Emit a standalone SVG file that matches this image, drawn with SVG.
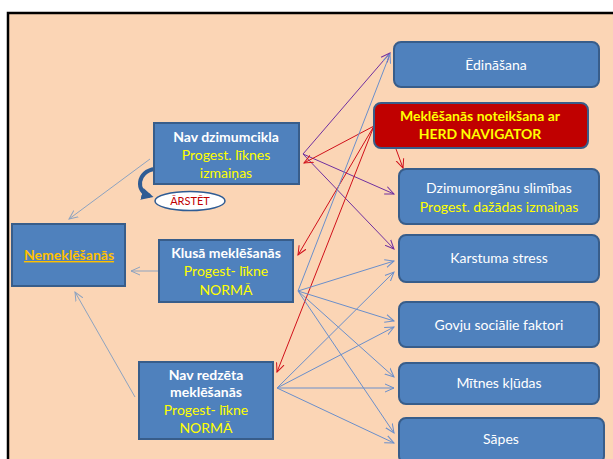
<svg xmlns="http://www.w3.org/2000/svg" width="613" height="459" viewBox="0 0 613 459">
<style>
.box{fill:#4F81BD;stroke:#385D8A;stroke-width:2}
.t{font-family:Lato,"Open Sans","Liberation Sans",sans-serif;font-size:14px;text-anchor:middle}
.w{fill:#FFFFFF}
.y{fill:#FFFF00}
.b{font-weight:bold}
.cp{stroke:#7030A0;stroke-width:1;fill:none;marker-end:url(#ap)}
.cr{stroke:#D0101A;stroke-width:1;fill:none;marker-end:url(#ar)}
.cb{stroke:#6A8FCB;stroke-width:1;fill:none;marker-end:url(#ab)}
.cg{stroke:#8DA3C0;stroke-width:1;fill:none;marker-end:url(#ag)}
</style>
<defs>
<marker id="ap" viewBox="0 0 10 10" refX="9" refY="5" markerWidth="10" markerHeight="10" markerUnits="userSpaceOnUse" orient="auto"><path d="M0,1 L9,5 L0,9" fill="none" stroke="#7030A0" stroke-width="1"/></marker>
<marker id="ar" viewBox="0 0 10 10" refX="9" refY="5" markerWidth="10" markerHeight="10" markerUnits="userSpaceOnUse" orient="auto"><path d="M0,1 L9,5 L0,9" fill="none" stroke="#D0101A" stroke-width="1"/></marker>
<marker id="ab" viewBox="0 0 10 10" refX="9" refY="5" markerWidth="10" markerHeight="10" markerUnits="userSpaceOnUse" orient="auto"><path d="M0,1 L9,5 L0,9" fill="none" stroke="#6A8FCB" stroke-width="1"/></marker>
<marker id="ag" viewBox="0 0 10 10" refX="9" refY="5" markerWidth="10" markerHeight="10" markerUnits="userSpaceOnUse" orient="auto"><path d="M0,1 L9,5 L0,9" fill="none" stroke="#8DA3C0" stroke-width="1"/></marker>
<marker id="at" viewBox="0 0 10 10" refX="7" refY="5" markerWidth="3" markerHeight="3" orient="auto"><path d="M0,0 L10,5 L0,10 z" fill="#2F5C94"/></marker>
</defs>
<rect x="0" y="0" width="613" height="459" fill="#FFFFFF"/>
<rect x="8" y="13" width="620" height="460" fill="#FBD5B5" stroke="#000000" stroke-width="2.5"/>

<g id="connectors">
<line class="cp" x1="303" y1="154" x2="390" y2="53"/>
<line class="cp" x1="303" y1="154" x2="394" y2="194"/>
<line class="cp" x1="303" y1="154" x2="394" y2="249"/>
<line class="cr" x1="374" y1="126" x2="304" y2="163"/>
<line class="cr" x1="374" y1="126" x2="298" y2="255"/>
<line class="cr" x1="374" y1="126" x2="277" y2="372"/>
<line class="cr" x1="396" y1="149" x2="403" y2="168"/>
<line class="cb" x1="298" y1="291" x2="390" y2="54"/>
<line class="cb" x1="298" y1="291" x2="394" y2="261"/>
<line class="cb" x1="298" y1="291" x2="394" y2="321"/>
<line class="cb" x1="298" y1="291" x2="394" y2="377"/>
<line class="cb" x1="298" y1="291" x2="394" y2="433"/>
<line class="cb" x1="277" y1="388" x2="394" y2="272"/>
<line class="cb" x1="277" y1="388" x2="394" y2="327"/>
<line class="cb" x1="277" y1="388" x2="394" y2="388"/>
<line class="cb" x1="277" y1="388" x2="394" y2="443"/>
<line class="cg" x1="150" y1="159" x2="69" y2="219"/>
<line class="cg" x1="159" y1="271" x2="131" y2="271"/>
<line class="cg" x1="135" y1="397" x2="75" y2="292"/>
<path d="M155,169 C137,171 135,192 150,196" fill="none" stroke="#2F5C94" stroke-width="4" marker-end="url(#at)"/>
</g>

<g id="nemeklesanas">
<rect class="box" x="12" y="224" width="113" height="62"/>
<text class="t b" x="69" y="260" fill="#FFC000" text-decoration="underline">Nemeklēšanās</text>
</g>

<g id="nav-dzimumcikla">
<rect class="box" x="154" y="123" width="145" height="61"/>
<text class="t b w" x="226" y="142">Nav dzimumcikla</text>
<text class="t y" x="226" y="160">Progest. līknes</text>
<text class="t y" x="226" y="178">izmaiņas</text>
</g>

<g id="arstet">
<ellipse cx="190" cy="201" rx="35" ry="9.5" fill="#FFFFFF" stroke="#2F5C94" stroke-width="1.5"/>
<text x="190" y="205" font-family="Lato,'Open Sans','Liberation Sans',sans-serif" font-size="11" fill="#C00000" text-anchor="middle">ĀRSTĒT</text>
</g>

<g id="klusa">
<rect class="box" x="159" y="240" width="134" height="62"/>
<text class="t b w" x="226" y="258">Klusā meklēšanās</text>
<text class="t y" x="226" y="276">Progest- līkne</text>
<text class="t y" x="226" y="295">NORMĀ</text>
</g>

<g id="nav-redzeta">
<rect class="box" x="139" y="362" width="134" height="77"/>
<text class="t b w" x="206" y="380">Nav redzēta</text>
<text class="t b w" x="206" y="397">meklēšanās</text>
<text class="t y" x="206" y="415">Progest- līkne</text>
<text class="t y" x="206" y="433">NORMĀ</text>
</g>

<g id="edinasana">
<rect class="box" x="394" y="42" width="205" height="45" rx="7"/>
<text class="t w" x="496" y="70">Ēdināšana</text>
</g>

<g id="herd">
<rect x="374" y="103" width="214" height="45" rx="7" fill="#C00000" stroke="#385D8A" stroke-width="2"/>
<text class="t b y" x="480" y="121">Meklēšanās noteikšana ar</text>
<text class="t b y" x="480" y="139">HERD NAVIGATOR</text>
</g>

<g id="dzimumorganu">
<rect class="box" x="399" y="169" width="200" height="55" rx="7"/>
<text class="t w" x="499" y="193">Dzimumorgānu slimības</text>
<text class="t y" x="499" y="212">Progest. dažādas izmaiņas</text>
</g>

<g id="karstuma">
<rect class="box" x="399" y="235" width="200" height="47" rx="7"/>
<text class="t w" x="499" y="263">Karstuma stress</text>
</g>

<g id="govju">
<rect class="box" x="399" y="302" width="200" height="45" rx="7"/>
<text class="t w" x="499" y="330">Govju sociālie faktori</text>
</g>

<g id="mitnes">
<rect class="box" x="399" y="363" width="200" height="41" rx="7"/>
<text class="t w" x="499" y="388">Mītnes kļūdas</text>
</g>

<g id="sapes">
<rect class="box" x="399" y="418" width="205" height="45" rx="7"/>
<text class="t w" x="501" y="444">Sāpes</text>
</g>
</svg>
